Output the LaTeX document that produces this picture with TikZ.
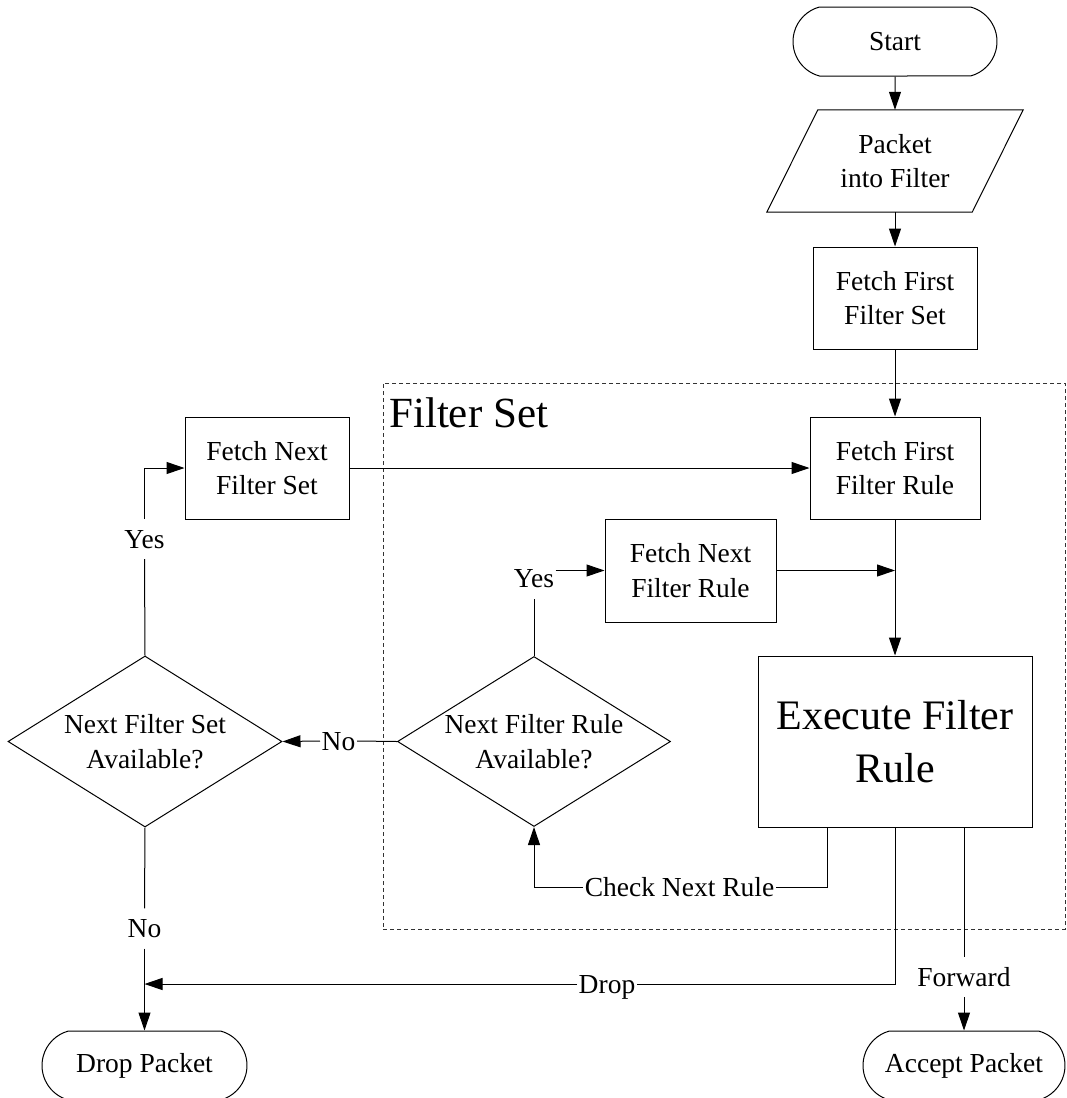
\documentclass[tikz,border=0pt]{standalone}
\usepackage{fontspec}
\setmainfont{Liberation Serif}
\usetikzlibrary{arrows.meta,shapes.geometric,shapes.misc}
\begin{document}
\begin{tikzpicture}[x=1pt,y=-1pt,
 every node/.style={font=\fontsize{27.5}{34.5}\selectfont, align=center},
 base/.style={draw, line width=1pt},
 procbox/.style={base, rectangle, inner sep=0pt},
 term/.style={base, rounded rectangle, rounded rectangle arc length=150, inner sep=0pt, minimum height=69pt},
 decide/.style={base, diamond, inner sep=0pt, aspect=1.6},
 lbl/.style={inner xsep=1.5pt, inner ysep=11pt, text height=18pt, text depth=0pt},
 arr/.style={line width=1pt, -{Triangle[length=18pt,width=12pt]}},
 ln/.style={line width=1pt},
]
\useasboundingbox (0,0) rectangle (1067,1098);

% dashed frame
\node[draw, dash pattern=on 4pt off 3pt, line width=0.8pt, black!80, minimum width=682pt, minimum height=546pt, inner sep=0pt] (fsbox) at (724,656) {};
\node[anchor=base west, inner sep=0pt, font=\fontsize{43}{50}\selectfont] (fslabel) at (389,427) {Filter Set};

% nodes
\node[term, minimum width=204pt] (start) at (895,41.5) {Start};
\node[minimum width=205pt, minimum height=102pt, inner sep=0pt] (pkt) at (895,161) {Packet\\into Filter};
\draw[ln] ([xshift=25.5pt]pkt.north west) -- ([xshift=25.5pt]pkt.north east) -- ([xshift=-25.5pt]pkt.south east) -- ([xshift=-25.5pt]pkt.south west) -- cycle;
\node[procbox, minimum width=164pt, minimum height=102pt] (ffs) at (895,298) {Fetch First\\Filter Set};
\node[procbox, minimum width=170pt, minimum height=102pt] (ffr) at (895,468) {Fetch First\\Filter Rule};
\node[procbox, minimum width=164pt, minimum height=102pt] (fns) at (267,468) {Fetch Next\\Filter Set};
\node[procbox, minimum width=171pt, minimum height=103pt] (fnr) at (690.5,570.5) {Fetch Next\\Filter Rule};
\node[procbox, minimum width=274pt, minimum height=171pt, font=\fontsize{42}{53}\selectfont] (exe) at (895,741.5) {Execute Filter\\Rule};
\node[decide, minimum width=273pt, minimum height=170pt] (nfr) at (534,741.5) {Next Filter Rule\\Available?};
\node[decide, minimum width=274pt, minimum height=171pt] (nfs) at (145,741.5) {Next Filter Set\\Available?};
\node[term, minimum width=205pt] (drop) at (144.5,1065.5) {Drop Packet};
\node[term, minimum width=202pt] (accept) at (964,1065.5) {Accept Packet};

% labels
\node[lbl] (yesA) at (534,578.5) {Yes};
\node[lbl] (yesB) at (144.5,539) {Yes};
\node[lbl] (noA) at (338.5,741) {No};
\node[lbl] (noB) at (144.5,928.5) {No};
\node[lbl] (cnr) at (679.5,887.5) {Check Next Rule};
\node[lbl] (dropl) at (607,984) {Drop};
\node[lbl] (fwd) at (964,977) {Forward};

% connectors
\draw[arr] (start) -- (pkt);
\draw[arr] (pkt) -- (ffs);
\draw[arr] (ffs) -- (ffr);
\draw[arr] (fns) -- (ffr);
\draw[arr] (ffr) -- (exe);
\draw[arr] (fnr.east) -- (fnr.east -| exe.north);
\draw[ln] (nfr.north) -- (yesA.south);
\draw[arr] (yesA.east |- fnr.west) -- (fnr.west);
\draw[ln] ([xshift=-68pt]exe.south) |- (cnr.east);
\draw[arr] (cnr.west) -| (nfr.south);
\draw[ln] (nfr.west) -- (noA.east);
\draw[arr] (noA.west) -- (nfs.east);
\draw[ln] (nfs.north) -- (yesB.south);
\draw[arr] (yesB.north) |- (fns.west);
\draw[ln] (nfs.south) -- (noB.north);
\draw[arr] (noB.south) -- (drop.north);
\draw[ln] (exe.south) |- (dropl.east);
\draw[arr] (dropl.west) -- (dropl.west -| drop.north);
\draw[ln] ([xshift=69pt]exe.south) -- (fwd.north);
\draw[arr] (fwd.south) -- (accept.north);
\end{tikzpicture}
\end{document}
